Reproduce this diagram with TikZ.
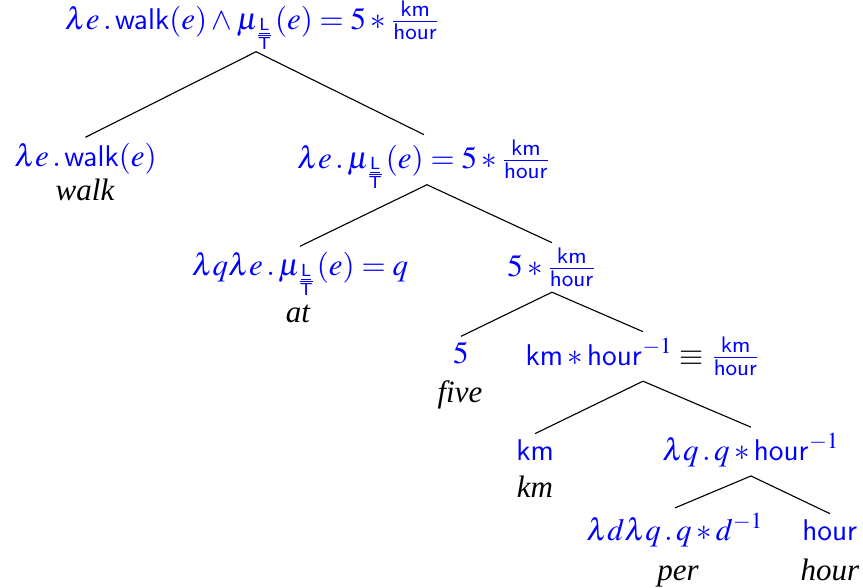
\documentclass[tikz,border=0pt]{standalone}
\usepackage{mathptmx}
\usepackage{fontspec}
\setmainfont{Liberation Serif}
\setsansfont[Scale=0.88]{Liberation Sans}
\newcommand{\dimsub}{\frac{\underline{\mathsf{L}}}{\mathsf{T}}}
\newcommand{\kmh}{\frac{\mathsf{km}}{\mathsf{hour}}}
\begin{document}
\begin{tikzpicture}[x=0.4pt,y=-0.4pt,
  sem/.style={text=blue,font=\fontsize{12.4}{14}\selectfont,inner sep=2pt,anchor=base},
  word/.style={text=black,font=\fontsize{12.4}{14}\selectfont\itshape,inner sep=2pt,anchor=base},
  edge/.style={draw=black,line width=0.45pt}]
\useasboundingbox (0,0) rectangle (863,588);
\node[sem] (root) at (252.5,29) {$\lambda e\,.\,\mathsf{walk}(e)\wedge\mu_{\dimsub}(e)=5*\kmh$};
\node[sem] (n1) at (85.5,166) {$\lambda e\,.\,\mathsf{walk}(e)$};
\node[word] (w1) at (85,200) {walk};
\node[sem] (n2) at (424,168) {$\lambda e\,.\,\mu_{\dimsub}(e)=5*\kmh$};
\node[sem] (n3) at (300,275) {$\lambda q\lambda e\,.\,\mu_{\dimsub}(e)=q$};
\node[word] (w3) at (298,322) {at};
\node[sem] (n4) at (552,276) {$5*\kmh$};
\node[sem] (n5) at (461,363) {$5$};
\node[word] (w5) at (460,402) {five};
\node[sem] (n6) at (643,365) {$\mathsf{km}*\mathsf{hour}^{-1}\mathrel{\textcolor{black}{\equiv}}\kmh$};
\node[sem] (n7) at (535,460) {$\mathsf{km}$};
\node[word] (w7) at (535,497) {km};
\node[sem] (n8) at (751,460) {$\lambda q\,.\,q*\mathsf{hour}^{-1}$};
\node[sem] (n9) at (675,540) {$\lambda d\lambda q\,.\,q*d^{-1}$};
\node[word] (w9) at (678,580) {per};
\node[sem] (n10) at (830,540) {$\mathsf{hour}$};
\node[word] (w10) at (830,580) {hour};
\draw[edge] ([xshift=1.4pt,yshift=1.2pt]root.south) -- (n1.north);
\draw[edge] ([xshift=1.4pt,yshift=1.2pt]root.south) -- (n2.north);
\draw[edge] ([xshift=1.2pt,yshift=3.6pt]n2.south) -- (n3.north);
\draw[edge] ([xshift=1.2pt,yshift=3.6pt]n2.south) -- (n4.north);
\draw[edge] (n4.south) -- (n5.north);
\draw[edge] (n4.south) -- (n6.north);
\draw[edge] (n6.south) -- (n7.north);
\draw[edge] (n6.south) -- (n8.north);
\draw[edge] ([yshift=-1.6pt]n8.south) -- (n9.north);
\draw[edge] ([yshift=-1.6pt]n8.south) -- (n10.north);
\end{tikzpicture}
\end{document}
